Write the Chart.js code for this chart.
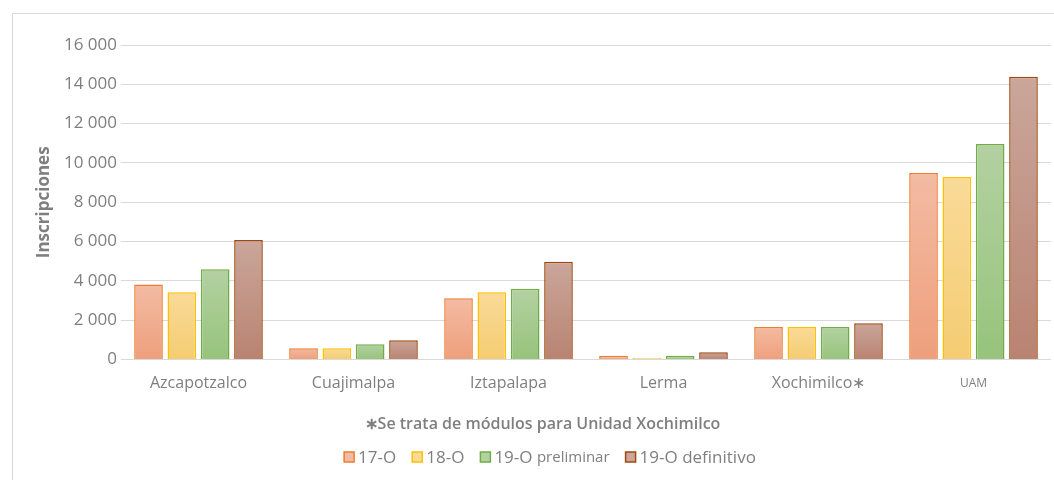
<!DOCTYPE html>
<html>
<head>
<meta charset="utf-8">
<script src="https://cdn.jsdelivr.net/npm/chart.js@4"></script>
<style>
  html, body { margin: 0; padding: 0; background: #fff; overflow: hidden; }
  #frame {
    position: absolute; left: 12px; top: 13px;
    width: 1100px; height: 500px;
    border-left: 1px solid #d9d9d9; border-top: 1px solid #d9d9d9;
  }
  #wrap { position: absolute; left: 0; top: 0; width: 1054px; height: 480px; }
</style>
</head>
<body>
<div id="frame"></div>
<div id="wrap"><canvas id="chart"></canvas></div>
<script>
// Chart data
const categories = ['Azcapotzalco', 'Cuajimalpa', 'Iztapalapa', 'Lerma', 'Xochimilco\u2217', 'UAM'];
const seriesNames = ['17-O', '18-O', '19-O preliminar', '19-O definitivo'];
const values17 = [3820, 580, 3120, 190, 1660, 9490];
const values18 = [3420, 580, 3430, 100, 1660, 9290];
const values19pre = [4600, 780, 3600, 190, 1660, 10970];
const values19def = [6080, 990, 4980, 380, 1850, 14380];
const yTicks = [0, 2000, 4000, 6000, 8000, 10000, 12000, 14000, 16000];

// legend text: main part + smaller trailing part (as in the original)
const legendMain = ['17-O', '18-O', '19-O ', '19-O definitivo'];
const legendSmall = ['', '', 'preliminar', ''];

const footnote = '\u2217Se trata de módulos para Unidad Xochimilco';
const textGray = '#7f7f7f';
const fontFamily = '"Open Sans", "Liberation Sans", sans-serif';

// Fill colours: light top -> darker bottom, plus border colour
const styles = [
    { top: '#f3bba3', bottom: '#ee9f7c', border: '#ed7d31' },
    { top: '#f9da98', bottom: '#f4cc72', border: '#ffc000' },
    { top: '#b3d1a1', bottom: '#97c37c', border: '#70ad47' },
    { top: '#caa69b', bottom: '#b98371', border: '#9e480e' }
];

// Per-bar vertical gradient
function barGradient(i) {
    return function(ctx) {
        const chart = ctx.chart;
        const area = chart.chartArea;
        if (!area || ctx.type !== 'data') return styles[i].top;
        const y = chart.scales.y;
        const topPx = y.getPixelForValue(ctx.raw);
        const basePx = y.getPixelForValue(0);
        const g = chart.ctx.createLinearGradient(0, topPx, 0, basePx);
        g.addColorStop(0, styles[i].top);
        g.addColorStop(1, styles[i].bottom);
        return g;
    };
}

const seriesValues = [values17, values18, values19pre, values19def];

const datasets = seriesNames.map(function(name, i) {
    return {
        label: name,
        data: seriesValues[i],
        backgroundColor: barGradient(i),
        borderColor: styles[i].border,
        borderWidth: 1.5,
        categoryPercentage: 0.86,
        barPercentage: 0.86
    };
});

function formatThousands(v) {
    return String(v).replace(/\B(?=(\d{3})+(?!\d))/g, ' ');
}

// Simple legend drawn under the footnote, tighter than the built-in one
const bottomLegend = {
    id: 'bottomLegend',
    afterDraw: function(chart) {
        const ctx = chart.ctx;
        const bigFont = '17px ' + fontFamily;
        const smallFont = '15px ' + fontFamily;
        const box = 10, boxGap = 4, itemGap = 16;
        const yMid = 457;

        ctx.save();
        const widths = legendMain.map(function(t, i) {
            ctx.font = bigFont;
            let w = ctx.measureText(t).width;
            ctx.font = smallFont;
            w += ctx.measureText(legendSmall[i]).width;
            return w;
        });
        let total = 0;
        widths.forEach(function(w) { total += box + boxGap + w; });
        total += itemGap * (widths.length - 1);

        let x = 550 - total / 2;
        ctx.textBaseline = 'middle';
        legendMain.forEach(function(t, i) {
            ctx.fillStyle = styles[i].top;
            ctx.fillRect(x, yMid - box / 2, box, box);
            ctx.strokeStyle = styles[i].border;
            ctx.lineWidth = 1.5;
            ctx.strokeRect(x, yMid - box / 2, box, box);
            let tx = x + box + boxGap;
            ctx.fillStyle = textGray;
            ctx.font = bigFont;
            ctx.fillText(t, tx, yMid + 1);
            tx += ctx.measureText(t).width;
            if (legendSmall[i]) {
                ctx.font = smallFont;
                ctx.fillText(legendSmall[i], tx, yMid + 1);
            }
            x += box + boxGap + widths[i] + itemGap;
        });
        ctx.restore();
    }
};

Chart.defaults.font.family = fontFamily;
Chart.defaults.color = textGray;

const PAD_LEFT = 34;

new Chart(document.getElementById('chart'), {
    type: 'bar',
    data: { labels: categories, datasets: datasets },
    plugins: [bottomLegend],
    options: {
        responsive: true,
        maintainAspectRatio: false,
        animation: false,
        layout: { padding: { left: PAD_LEFT, right: 3, top: 45, bottom: 44 } },
        plugins: {
            legend: { display: false },
            tooltip: { enabled: false },
            // footnote sits under the category labels, centred on the whole chart
            title: {
                display: true,
                position: 'bottom',
                text: footnote,
                color: textGray,
                font: { size: 16, weight: '600' },
                padding: { top: 16, bottom: 2 }
            }
        },
        scales: {
            x: {
                grid: { display: false },
                border: { display: false },
                ticks: {
                    padding: 6,
                    color: textGray,
                    font: function(ctx) {
                        return ctx.index === 5 ? { size: 12, lineHeight: 1.6 } : { size: 16 };
                    }
                }
            },
            y: {
                min: 0,
                max: 16000,
                afterBuildTicks: function(scale) {
                    scale.ticks = yTicks.map(function(v) { return { value: v }; });
                },
                afterFit: function(scale) {
                    scale.width = 121 - PAD_LEFT;
                },
                grid: {
                    color: '#d9d9d9',
                    lineWidth: 1,
                    drawTicks: false
                },
                border: { display: false },
                ticks: {
                    padding: 4,
                    color: textGray,
                    font: { size: 17 },
                    callback: function(v) { return formatThousands(v); }
                },
                title: {
                    display: true,
                    text: 'Inscripciones',
                    color: textGray,
                    font: { size: 17, weight: 'bold' },
                    padding: { top: 0, bottom: 4 }
                }
            }
        }
    }
});
</script>
</body>
</html>
